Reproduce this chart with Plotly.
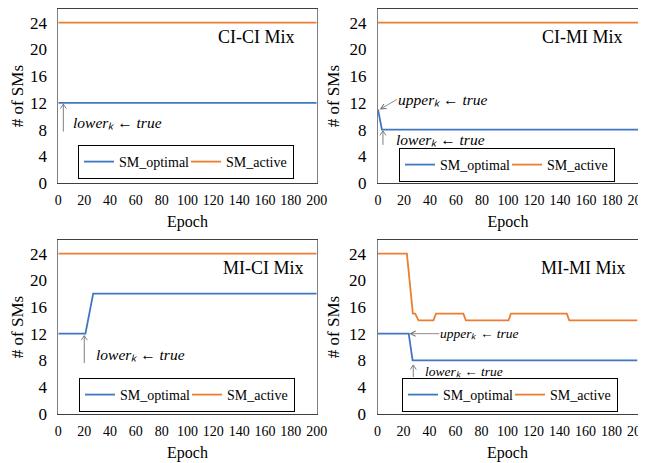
import plotly.graph_objects as go

# ---------------- data ----------------
ci_ci_epoch = [0, 200]
ci_ci_optimal = [12, 12]
ci_ci_active = [24, 24]

ci_mi_epoch_opt = [0, 3, 200]
ci_mi_optimal = [11, 8, 8]
ci_mi_epoch_act = [0, 200]
ci_mi_active = [24, 24]

mi_ci_epoch_opt = [0, 21, 27, 200]
mi_ci_optimal = [12, 12, 18, 18]
mi_ci_epoch_act = [0, 200]
mi_ci_active = [24, 24]

mi_mi_epoch_opt = [0, 24, 27, 200]
mi_mi_optimal = [12, 12, 8, 8]
mi_mi_epoch_act = [0, 22.6, 27.2, 29, 31.5, 43, 45, 66, 68, 100.8, 102.6, 145.6, 147.5, 200]
mi_mi_active = [24, 24, 15, 15, 14, 14, 15, 15, 14, 14, 15, 15, 14, 14]

panel_titles = ["CI-CI Mix", "CI-MI Mix", "MI-CI Mix", "MI-MI Mix"]
x_ticks = [0, 20, 40, 60, 80, 100, 120, 140, 160, 180, 200]
y_ticks = [0, 4, 8, 12, 16, 20, 24]

BLUE = "#3f77c0"
ORANGE = "#ED7D31"
ARROW = "#707070"
FONT = "Liberation Serif"

OFF = 8  # page body margin
W, H = 646 - OFF, 463 - OFF
ML, MR, MT, MB = 50, 8, 1, 49
PW, PH = W - ML - MR, H - MT - MB


def px_x(p):
    return (p - OFF - ML) / PW


def px_y(p):
    return 1 - (p - OFF - MT) / PH


fig = go.Figure()

panels = [
    (ci_ci_epoch, ci_ci_optimal, ci_ci_epoch, ci_ci_active),
    (ci_mi_epoch_opt, ci_mi_optimal, ci_mi_epoch_act, ci_mi_active),
    (mi_ci_epoch_opt, mi_ci_optimal, mi_ci_epoch_act, mi_ci_active),
    (mi_mi_epoch_opt, mi_mi_optimal, mi_mi_epoch_act, mi_mi_active),
]

legend_pos = [(78, 145), (399, 148), (79, 378), (402, 378)]

for i, (xo, yo, xa, ya) in enumerate(panels):
    n = "" if i == 0 else str(i + 1)
    leg = "legend" if i == 0 else "legend" + str(i + 1)
    fig.add_trace(go.Scatter(x=xo, y=yo, mode="lines", name="SM_optimal",
                             line=dict(color=BLUE, width=1.8),
                             xaxis="x" + n, yaxis="y" + n, legend=leg))
    fig.add_trace(go.Scatter(x=xa, y=ya, mode="lines", name="SM_active",
                             line=dict(color=ORANGE, width=1.8),
                             xaxis="x" + n, yaxis="y" + n, legend=leg))

x_domains = [[px_x(58.3), px_x(316.7)], [px_x(378), px_x(638)],
             [px_x(58.3), px_x(316.7)], [px_x(377.5), px_x(637.5)]]
y_domains = [[px_y(183), px_y(9.3)], [px_y(183), px_y(9.3)],
             [px_y(413.7), px_y(240.3)], [px_y(413.7), px_y(240.3)]]

layout = dict(
    width=W, height=H,
    margin=dict(l=ML, r=MR, t=MT, b=MB, autoexpand=False),
    paper_bgcolor="white", plot_bgcolor="white",
    font=dict(family=FONT, color="black"),
    showlegend=True,
)

for i in range(4):
    n = "" if i == 0 else str(i + 1)
    layout["xaxis" + n] = dict(
        domain=x_domains[i], range=[0, 200], tickvals=x_ticks,
        showgrid=False, zeroline=False, showline=True, linecolor="#404040",
        linewidth=1, mirror=True, ticks="", ticklabelstandoff=4, tickangle=0,
        ticklabeloverflow="allow",
        tickfont=dict(family=FONT, size=14, color="black"), automargin=False,
        title=dict(text="Epoch", font=dict(family=FONT, size=16, color="black"), standoff=9),
        anchor="y" + n, fixedrange=True,
    )
    layout["yaxis" + n] = dict(
        domain=y_domains[i], range=[0, 26], tickvals=y_ticks,
        showgrid=False, zeroline=False, showline=True, linecolor="#7f7f7f",
        linewidth=1, mirror=True, ticks="", ticklabelstandoff=7,
        tickfont=dict(family=FONT, size=17, color="black"), automargin=False,
        title=dict(text="# of SMs", font=dict(family=FONT, size=17, color="black"), standoff=5),
        anchor="x" + n, fixedrange=True,
    )
    lx, ly = legend_pos[i]
    key = "legend" if i == 0 else "legend" + str(i + 1)
    layout[key] = dict(
        x=px_x(lx), y=px_y(ly), xanchor="left", yanchor="top",
        orientation="h", bordercolor="black", borderwidth=1,
        bgcolor="white", font=dict(family=FONT, size=14, color="black"),
        itemwidth=30, entrywidth=62, tracegroupgap=0,
    )

fig.update_layout(**layout)

# panel titles
title_pos = [(0.9226, 21.8), (0.949, 21.8), (0.9586, 21.8), (0.964, 21.8)]
for i, (tx, ty) in enumerate(title_pos):
    n = "" if i == 0 else str(i + 1)
    fig.add_annotation(text=panel_titles[i], xref="x" + n + " domain", yref="y" + n,
                       x=tx, y=ty, xanchor="right", yanchor="middle", showarrow=False,
                       font=dict(family=FONT, size=18, color="black"))

lower_txt = "<i>lower\u2096</i> \u2190 <i>true</i>"
upper_txt = "<i>upper\u2096</i> \u2190 <i>true</i>"

# plain labels: (panel, text, x, y, size)
texts = [
    (0, lower_txt, 9.5, 9.0, 15.5),
    (1, lower_txt, 12, 6.5, 15.5),
    (2, lower_txt, 28, 8.9, 15.5),
    (3, lower_txt, 35, 6.3, 13.5),
]
for p, t, tx, ty, fs in texts:
    n = "" if p == 0 else str(p + 1)
    fig.add_annotation(text=t, xref="x" + n, yref="y" + n, x=tx, y=ty,
                       xanchor="left", yanchor="middle", showarrow=False,
                       font=dict(family=FONT, size=fs, color="black"))

# labels with an arrow from the label to the curve: (panel, text, head_x, head_y, label_x, label_y, size)
arrow_texts = [
    (1, upper_txt, 1.3, 11.0, 14.5, 12.5, 15.5),
    (3, upper_txt, 24.4, 12.0, 47.5, 12.0, 13.5),
]
for p, t, hx, hy, tx, ty, fs in arrow_texts:
    n = "" if p == 0 else str(p + 1)
    fig.add_annotation(text=t, xref="x" + n, yref="y" + n, x=hx, y=hy,
                       axref="x" + n, ayref="y" + n, ax=tx, ay=ty,
                       xanchor="left", yanchor="middle",
                       showarrow=True, arrowhead=5, arrowsize=1.3, arrowwidth=0.8,
                       arrowcolor=ARROW, standoff=0, borderpad=0,
                       font=dict(family=FONT, size=fs, color="black"))

# vertical pointer arrows: (panel, x, head_y, tail_y)
up_arrows = [
    (0, 3.9, 11.8, 7.7),
    (1, 3.8, 7.8, 5.7),
    (2, 20.1, 11.7, 7.6),
    (3, 27.5, 7.3, 5.5),
]
for p, ax_, hy, ty in up_arrows:
    n = "" if p == 0 else str(p + 1)
    fig.add_shape(type="line", xref="x" + n, yref="y" + n,
                  x0=ax_, x1=ax_, y0=ty, y1=hy,
                  line=dict(color=ARROW, width=0.9))
    fig.add_shape(type="path", xref="x" + n, yref="y" + n,
                  xsizemode="pixel", ysizemode="pixel", xanchor=ax_, yanchor=hy,
                  path="M -3,-4.5 L 0,0 L 3,-4.5",
                  line=dict(color=ARROW, width=0.9))

fig.write_html("out.html")
